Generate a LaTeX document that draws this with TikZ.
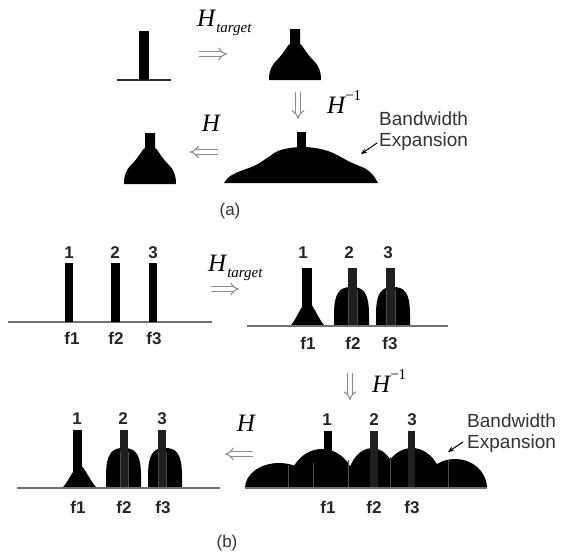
\documentclass[tikz,border=0pt]{standalone}
\usepackage{fontspec}
\setmainfont{Liberation Serif}
\newfontfamily\arialf{Liberation Sans}
\usetikzlibrary{arrows.meta}
\definecolor{basegray}{HTML}{707070}
\definecolor{arrgray}{HTML}{8A8A8A}
\definecolor{txtgray}{HTML}{333333}
\tikzset{
  dblarrow/.style={arrgray, line width=1pt, double=white, double distance=3.5pt, -{Implies[length=5pt,width=17pt]}},
  baseline line/.style={basegray, line width=1.4pt},
  numlbl/.style={font=\arialf\bfseries\fontsize{17}{17}\selectfont, text=black!85, inner sep=0pt},
  bwtext/.style={font=\arialf\fontsize{19}{21}\selectfont, text=txtgray, align=left, inner sep=0pt},
  hlabel/.style={font=\itshape\fontsize{25}{25}\selectfont, inner sep=0pt},
  caplbl/.style={font=\arialf\fontsize{17}{17}\selectfont, text=txtgray, inner sep=0pt},
  smallarr/.style={black, line width=1pt, -{Stealth[length=6pt,width=5pt]}},
  barfill/.style={fill=black!88},
  seam/.style={black!70, line width=0.5pt}
}
% bell with stem: #1 centre x, #2 base y, #3 stem top y
\newcommand\mybell[3]{%
  \fill ({#1-26},#2) .. controls ({#1-26},{#2-9}) and ({#1-24},{#2-14}) .. ({#1-18},{#2-20})
    .. controls ({#1-13},{#2-25}) and ({#1-10},{#2-30}) .. ({#1-6.5},{#2-35}) -- ({#1-5},{#2-36}) -- ({#1-5},#3) -- ({#1+5},#3)
    -- ({#1+5},{#2-36}) -- ({#1+6.5},{#2-35}) .. controls ({#1+10},{#2-30}) and ({#1+13},{#2-25}) .. ({#1+18},{#2-20})
    .. controls ({#1+24},{#2-14}) and ({#1+26},{#2-9}) .. ({#1+26},#2) -- cycle;}
% arch: #1 left x, #2 right x, #3 base y, #4 top y
\newcommand\myarch[4]{%
  \fill (#1,#3) -- (#1,{#3-0.3*(#3-#4)}) .. controls (#1,{#4+3}) and ({#1+0.22*(#2-#1)},#4) .. ({0.5*(#1+#2)},#4)
    .. controls ({#2-0.22*(#2-#1)},#4) and (#2,{#4+3}) .. (#2,{#3-0.3*(#3-#4)}) -- (#2,#3) -- cycle;}
% half ellipse hump: #1 centre x, #2 half width, #3 base y, #4 top y
\newcommand\myhump[4]{%
  \fill ({#1-#2},#3) .. controls ({#1-#2},{#3-0.552*(#3-#4)}) and ({#1-0.552*#2},#4) .. (#1,#4)
    .. controls ({#1+0.552*#2},#4) and ({#1+#2},{#3-0.552*(#3-#4)}) .. ({#1+#2},#3) -- cycle;}
% triangle: #1 centre x, #2 half width, #3 base y, #4 apex y
\newcommand\mytri[4]{%
  \fill ({#1-#2},#3) .. controls ({#1-0.7*#2},{#3-4}) and ({#1-0.3*#2},{#4+3}) .. (#1,#4)
    .. controls ({#1+0.3*#2},{#4+3}) and ({#1+0.7*#2},{#3-4}) .. ({#1+#2},#3) -- cycle;}
\begin{document}
\begin{tikzpicture}[x=1pt,y=-1pt]
\useasboundingbox[fill=white] (0,0) rectangle (562,552);

%%%%%%%%%%%%%%%% (a)
% single spike
\draw[black!80, line width=2pt] (117,80) -- (171,80);
\fill (139,31) rectangle (149,80);
% target shape
\mybell{295}{80}{29}
\coordinate (aR1s) at (199,54); \coordinate (aR1e) at (227,54);
\draw[dblarrow] (aR1s) -- (aR1e);
\node[hlabel, anchor=base west] (htarget) at (197,26) {H\kern1pt\raisebox{-0.25em}{\fontsize{15}{15}\selectfont target}};
% down arrow
\coordinate (aD1s) at (298,92); \coordinate (aD1e) at (298,119);
\draw[dblarrow] (aD1s) -- (aD1e);
\node[hlabel, anchor=base west] (hinv) at (327,113) {H\raisebox{0.5em}{\fontsize{15}{15}\selectfont\upshape −1}};
% expanded shape
\fill plot[smooth, tension=0.55] coordinates {(224,183) (229,177) (238,172) (249,168) (258,164) (267,158) (278,151) (290,148) (302,147) (315,148) (328,151) (339,156) (348,161) (357,165) (366,169) (373,175) (378,183)} -- cycle;
\fill (297,132) rectangle (306,150);
\node[bwtext, anchor=west] (bwa) at (379,131) {Bandwidth\\Expansion};
\coordinate (bwaArrS) at (377,143); \coordinate (bwaArrE) at (361,154);
\draw[smallarr] (bwaArrS) -- (bwaArrE);
% left arrow and H
\coordinate (aL1s) at (218,152); \coordinate (aL1e) at (190,152);
\draw[dblarrow] (aL1s) -- (aL1e);
\node[hlabel, anchor=base] (ha) at (211,131) {H};
% result shape
\mybell{150}{184}{133}
\node[caplbl] (capa) at (230,211) {(a)};

%%%%%%%%%%%%%%%% (b) top-left
\draw[baseline line] (8,322) -- (212,322);
\fill (65,263) rectangle (73,322);
\fill (111,263) rectangle (120,322);
\fill (149,263) rectangle (157,322);
\node[numlbl] (t1) at (69,253) {1};
\node[numlbl] (t2) at (115,253) {2};
\node[numlbl] (t3) at (153,253) {3};
\node[numlbl] (tf1) at (72,338) {f1};
\node[numlbl] (tf2) at (116,338) {f2};
\node[numlbl] (tf3) at (154,338) {f3};
\coordinate (bR1s) at (211,289); \coordinate (bR1e) at (239,289);
\draw[dblarrow] (bR1s) -- (bR1e);
\node[hlabel, anchor=base west] (htargetb) at (208,271) {H\kern1pt\raisebox{-0.25em}{\fontsize{15}{15}\selectfont target}};

%%%%%%%%%%%%%%%% (b) top-right
\mytri{307.5}{17.5}{326}{300}
\myarch{334}{369}{326}{287}
\myarch{376}{410}{326}{287}
\fill (302,268) rectangle (312,326);
\fill[barfill] (348,268) rectangle (357,326);
\fill[barfill] (386,268) rectangle (395,326);
\draw[seam] (348,290) -- (348,326) (357,290) -- (357,326) (386,290) -- (386,326) (395,290) -- (395,326);
\draw[baseline line] (247,326) -- (448,326);
\node[numlbl] (u1) at (303,253) {1};
\node[numlbl] (u2) at (349,253) {2};
\node[numlbl] (u3) at (388,253) {3};
\node[numlbl] (uf1) at (308,343) {f1};
\node[numlbl] (uf2) at (353,343) {f2};
\node[numlbl] (uf3) at (390,343) {f3};
% down arrow
\coordinate (bD1s) at (350,373); \coordinate (bD1e) at (350,400);
\draw[dblarrow] (bD1s) -- (bD1e);
\node[hlabel, anchor=base west] (hinvb) at (372,392) {H\raisebox{0.5em}{\fontsize{15}{15}\selectfont\upshape −1}};

%%%%%%%%%%%%%%%% (b) bottom-right
\myhump{279}{34}{488}{463}
\myhump{322}{34}{488}{449}
\myhump{372}{26}{488}{448}
\myhump{412}{31}{488}{448}
\myhump{455}{32}{488}{459}
\fill (324,431) rectangle (332,488);
\fill[barfill] (370,431) rectangle (378,488);
\fill[barfill] (408,431) rectangle (415,488);
\draw[seam] (288,465) -- (288,488) (313,463) -- (313,488) (348,460) -- (348,488) (390,457) -- (390,488) (448,460) -- (448,488);
\draw[baseline line] (245,488) -- (487,488);
\node[numlbl] (v1) at (327,420) {1};
\node[numlbl] (v2) at (374,420) {2};
\node[numlbl] (v3) at (412,420) {3};
\node[numlbl] (vf1) at (328,507) {f1};
\node[numlbl] (vf2) at (374,507) {f2};
\node[numlbl] (vf3) at (412,507) {f3};
\node[bwtext, anchor=west] (bwb) at (467,433) {Bandwidth\\Expansion};
\coordinate (bwbArrS) at (463,442); \coordinate (bwbArrE) at (448,452);
\draw[smallarr] (bwbArrS) -- (bwbArrE);
% left arrow and H
\coordinate (bL1s) at (253,454); \coordinate (bL1e) at (225,454);
\draw[dblarrow] (bL1s) -- (bL1e);
\node[hlabel, anchor=base] (hb) at (246,431) {H};

%%%%%%%%%%%%%%%% (b) bottom-left
\mytri{79.5}{17.5}{488}{464}
\myarch{106}{141}{488}{448}
\myarch{148}{182}{488}{448}
\fill (73,430) rectangle (82,488);
\fill[barfill] (120,430) rectangle (128,488);
\fill[barfill] (158,430) rectangle (166,488);
\draw[seam] (120,452) -- (120,488) (128,452) -- (128,488) (158,452) -- (158,488) (166,452) -- (166,488);
\draw[baseline line] (17,488) -- (220,488);
\node[numlbl] (w1) at (77,419) {1};
\node[numlbl] (w2) at (123,419) {2};
\node[numlbl] (w3) at (162,419) {3};
\node[numlbl] (wf1) at (78,507) {f1};
\node[numlbl] (wf2) at (124,507) {f2};
\node[numlbl] (wf3) at (163,507) {f3};
\node[caplbl] (capb) at (227,543) {(b)};
\end{tikzpicture}
\end{document}
